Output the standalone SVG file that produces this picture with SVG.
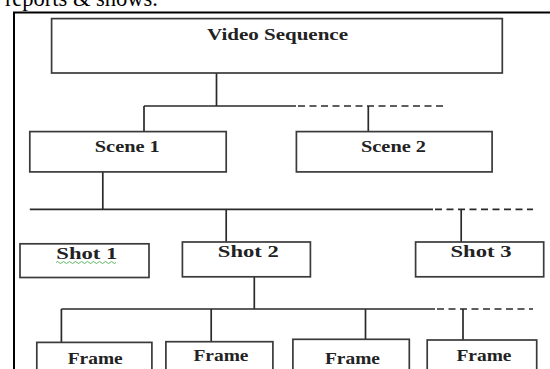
<svg xmlns="http://www.w3.org/2000/svg" width="550" height="369" viewBox="0 0 550 369">
<style>
.box{fill:#fff;stroke:#3a3a3a;stroke-width:1.7}
.lbl{font-family:"Liberation Serif",serif;font-weight:bold;font-size:16px;fill:#222;text-anchor:middle}
.ln{stroke:#2a2a2a;stroke-width:1.7;fill:none}
.dash{stroke:#2a2a2a;stroke-width:1.7;fill:none;stroke-dasharray:7 4.5}
</style>
<rect width="550" height="369" fill="#fff"/>
<text x="158" y="6" text-anchor="end" font-family="Liberation Serif, serif" font-size="22.5" fill="#000">reports &amp; shows.</text>
<path d="M14 369 V12.5 H550" fill="none" stroke="#000" stroke-width="2"/>
<g id="connectors">
<path class="ln" d="M216.5 73 V106 M144 106 H296 M144 106 V131.6 M368.3 106 V131.6"/>
<path class="dash" d="M298 106 H446"/>
<path class="ln" d="M102.8 172 V209.4 M29.8 209.4 H433 M226.2 209.4 V242 M461.2 209.4 V242"/>
<path class="dash" d="M435 209.4 H533"/>
<path class="ln" d="M254.3 277 V309 M61.4 309 H435 M61.4 309 V342.4 M211.2 309 V341.7 M365.5 309 V339.3 M463 309 V340"/>
<path class="dash" d="M437 309 H533"/>
</g>
<g id="video-sequence"><rect class="box" x="51.6" y="18.6" width="450.7" height="54.4"/><text class="lbl" x="277.5" y="40.3" textLength="141" lengthAdjust="spacingAndGlyphs">Video Sequence</text></g>
<g id="scene1"><rect class="box" x="29.8" y="131.6" width="196.4" height="40.3"/><text class="lbl" x="127.3" y="152.3" textLength="65" lengthAdjust="spacingAndGlyphs">Scene 1</text></g>
<g id="scene2"><rect class="box" x="296.4" y="131.6" width="195.7" height="40.3"/><text class="lbl" x="393.5" y="152.3" textLength="65" lengthAdjust="spacingAndGlyphs">Scene 2</text></g>
<g id="shot1"><rect class="box" x="20" y="243.8" width="129" height="33.7"/><text class="lbl" x="86.8" y="259.3" textLength="61" lengthAdjust="spacingAndGlyphs">Shot  1</text><path d="M56 262.5 q1.5 -2 3 0 t3 0 t3 0 t3 0 t3 0 t3 0 t3 0 t3 0 t3 0 t3 0 t3 0 t3 0 t3 0 t3 0 t3 0 t3 0 t3 0 t3 0 t3 0 t3 0" fill="none" stroke="#4caf50" stroke-width="0.9"/></g>
<g id="shot2"><rect class="box" x="182.4" y="242" width="128" height="34.8"/><text class="lbl" x="248.3" y="256.5" textLength="61" lengthAdjust="spacingAndGlyphs">Shot  2</text></g>
<g id="shot3"><rect class="box" x="415.6" y="242" width="128.1" height="34.8"/><text class="lbl" x="481" y="256.5" textLength="61" lengthAdjust="spacingAndGlyphs">Shot  3</text></g>
<g id="frame1"><rect class="box" x="36.8" y="342.4" width="115.1" height="50"/><text class="lbl" x="95.2" y="364.4" textLength="55" lengthAdjust="spacingAndGlyphs">Frame</text></g>
<g id="frame2"><rect class="box" x="165.9" y="341.7" width="107" height="50"/><text class="lbl" x="221" y="361" textLength="55" lengthAdjust="spacingAndGlyphs">Frame</text></g>
<g id="frame3"><rect class="box" x="292.9" y="339.3" width="116.4" height="50"/><text class="lbl" x="352.5" y="364.4" textLength="55" lengthAdjust="spacingAndGlyphs">Frame</text></g>
<g id="frame4"><rect class="box" x="427.2" y="340" width="109.5" height="50"/><text class="lbl" x="484" y="361" textLength="55" lengthAdjust="spacingAndGlyphs">Frame</text></g>
</svg>
